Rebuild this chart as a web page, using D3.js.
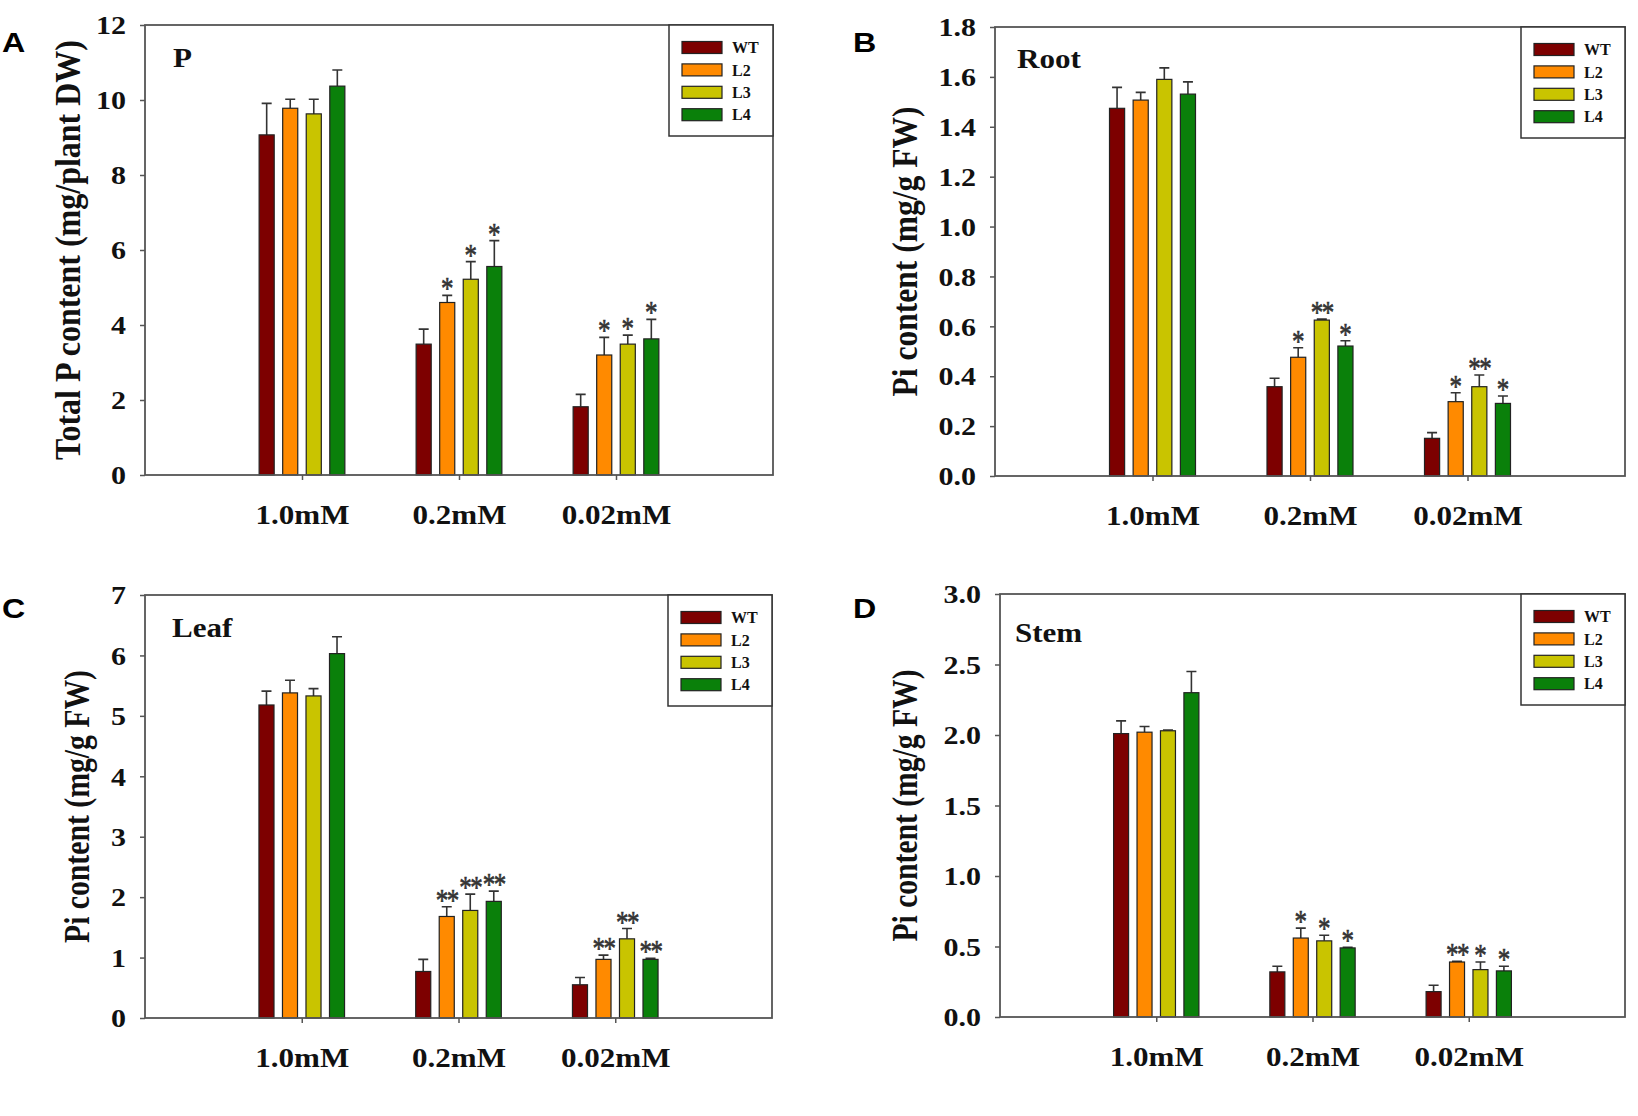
<!DOCTYPE html>
<html>
<head>
<meta charset="utf-8">
<script src="https://cdn.jsdelivr.net/npm/d3@7"></script>
<style>
  body { margin: 0; background: #fff; }
  text { font-family: "Liberation Serif", "Times New Roman", serif; }
</style>
</head>
<body>
<div id="chart"></div>
<script>
// Categories (P supply) and plant lines
const categories = ["1.0mM", "0.2mM", "0.02mM"];
const lines = ["WT", "L2", "L3", "L4"];
const lineColors = ["#7d0000", "#ff8a00", "#c9c400", "#0a800a"];

// A - total P, mg/plant DW (rows = category, cols = line)
const totalPMean = [[9.07, 9.78, 9.63, 10.37], [3.49, 4.60, 5.22, 5.56], [1.82, 3.20, 3.49, 3.63]];
const totalPErr = [[0.84, 0.24, 0.39, 0.43], [0.40, 0.19, 0.47, 0.69], [0.33, 0.47, 0.24, 0.52]];
const totalPStars = [["", "", "", ""], ["", "*", "*", "*"], ["", "*", "*", "*"]];
const totalPTicks = [0, 2, 4, 6, 8, 10, 12];

// B - root Pi, mg/g FW
const rootMean = [[1.474, 1.507, 1.590, 1.531], [0.358, 0.476, 0.625, 0.521], [0.151, 0.298, 0.358, 0.291]];
const rootErr = [[0.084, 0.031, 0.046, 0.049], [0.034, 0.038, 0.004, 0.021], [0.023, 0.036, 0.047, 0.030]];
const rootStars = [["", "", "", ""], ["", "*", "**", "*"], ["", "*", "**", "*"]];
const rootTicks = [0, 0.2, 0.4, 0.6, 0.8, 1.0, 1.2, 1.4, 1.6, 1.8];

// C - leaf Pi, mg/g FW
const leafMean = [[5.18, 5.38, 5.33, 6.03], [0.77, 1.68, 1.78, 1.93], [0.55, 0.97, 1.31, 0.97]];
const leafErr = [[0.23, 0.21, 0.12, 0.28], [0.20, 0.16, 0.27, 0.17], [0.12, 0.07, 0.17, 0.02]];
const leafStars = [["", "", "", ""], ["", "**", "**", "**"], ["", "**", "**", "**"]];
const leafTicks = [0, 1, 2, 3, 4, 5, 6, 7];

// D - stem Pi, mg/g FW
const stemMean = [[2.01, 2.02, 2.03, 2.30], [0.32, 0.56, 0.54, 0.49], [0.18, 0.39, 0.336, 0.327]];
const stemErr = [[0.09, 0.04, 0.005, 0.15], [0.04, 0.07, 0.04, 0.005], [0.045, 0.005, 0.054, 0.033]];
const stemStars = [["", "", "", ""], ["", "*", "*", "*"], ["", "**", "*", "*"]];
const stemTicks = [0, 0.5, 1.0, 1.5, 2.0, 2.5, 3.0];

// panel layout: plot box [left, right, top, bottom]
const panels = [
  { letter: "A", name: "P", mean: totalPMean, err: totalPErr, stars: totalPStars, ticks: totalPTicks, fmt: "d",
    yLabel: "Total P content (mg/plant DW)", box: [145, 773, 25, 475], titleX: 68, titleLen: 420,
    nameDx: 28, nameDy: 42, letterX: 2, letterY: 52 },
  { letter: "B", name: "Root", mean: rootMean, err: rootErr, stars: rootStars, ticks: rootTicks, fmt: ".1f",
    yLabel: "Pi content (mg/g FW)", box: [995, 1625, 27, 476], titleX: 905, titleLen: 290,
    nameDx: 22, nameDy: 41, letterX: 853, letterY: 52 },
  { letter: "C", name: "Leaf", mean: leafMean, err: leafErr, stars: leafStars, ticks: leafTicks, fmt: "d",
    yLabel: "Pi content (mg/g FW)", box: [145, 772, 595, 1018], titleX: 77, titleLen: 273,
    nameDx: 27, nameDy: 42, letterX: 2, letterY: 618 },
  { letter: "D", name: "Stem", mean: stemMean, err: stemErr, stars: stemStars, ticks: stemTicks, fmt: ".1f",
    yLabel: "Pi content (mg/g FW)", box: [1000, 1625, 594, 1017], titleX: 905, titleLen: 272,
    nameDx: 15, nameDy: 48, letterX: 853, letterY: 618 }
];

const svg = d3.select("#chart")
  .append("svg")
  .attr("width", 1638)
  .attr("height", 1116);

const frameColor = "#555";
const step = 0.15;   // bar pitch in x units
const bw = 0.096;    // bar width in x units

panels.forEach(p => {
  const [x0, x1, y0, y1] = p.box;
  const x = d3.scaleLinear().domain([0, 4]).range([x0, x1]);
  const y = d3.scaleLinear().domain([0, d3.max(p.ticks)]).range([y1, y0]);
  const g = svg.append("g");

  // flatten to one row per bar
  const rows = [];
  categories.forEach((c, ci) => lines.forEach((s, si) => {
    rows.push({ ci, si, v: p.mean[ci][si], e: p.err[ci][si], star: p.stars[ci][si] });
  }));
  const cx = d => x(d.ci + 1 + (d.si - 1.5) * step);
  const barW = x(bw) - x(0);

  // error bars (upper only)
  g.selectAll(".err")
    .data(rows)
    .join("path")
    .attr("class", "err")
    .attr("d", d => `M${cx(d)},${y(d.v)}V${y(d.v + d.e)}M${cx(d) - 5},${y(d.v + d.e)}H${cx(d) + 5}`)
    .attr("stroke", "#333")
    .attr("stroke-width", 1.6)
    .attr("fill", "none");

  // bars
  g.selectAll(".bar")
    .data(rows)
    .join("rect")
    .attr("class", "bar")
    .attr("x", d => cx(d) - barW / 2)
    .attr("width", barW)
    .attr("y", d => y(d.v))
    .attr("height", d => y(0) - y(d.v))
    .attr("fill", d => lineColors[d.si])
    .attr("stroke", "#222")
    .attr("stroke-width", 1.2);

  // significance stars (stretched a little in height, like the original)
  g.selectAll(".star")
    .data(rows.filter(d => d.star))
    .join("text")
    .attr("class", "star")
    .attr("transform", d => `translate(${cx(d)},${y(d.v + d.e) + 4}) scale(1,1.3)`)
    .attr("text-anchor", "middle")
    .attr("font-size", 25)
    .attr("letter-spacing", d => d.star.length > 1 ? -1.5 : 0)
    .attr("fill", "#333")
    .attr("stroke", "#333")
    .attr("stroke-width", 0.5)
    .text(d => d.star);

  // frame
  g.append("rect")
    .attr("x", x0).attr("y", y0)
    .attr("width", x1 - x0).attr("height", y1 - y0)
    .attr("fill", "none")
    .attr("stroke", frameColor)
    .attr("stroke-width", 1.8);

  // y axis
  const yAxis = g.append("g")
    .attr("transform", `translate(${x0},0)`)
    .call(d3.axisLeft(y).tickValues(p.ticks).tickSize(5).tickFormat(d3.format(p.fmt)));
  yAxis.select(".domain").remove();
  yAxis.selectAll("line").attr("stroke", frameColor).attr("stroke-width", 1.5);
  yAxis.selectAll("text")
    .attr("x", 0).attr("dy", "0.35em")
    .attr("transform", "translate(-19,0) scale(1.2,1)")
    .attr("text-anchor", "end")
    .attr("font-size", 25)
    .attr("font-weight", "bold")
    .attr("font-family", "Liberation Serif")
    .attr("fill", "#111");

  // x axis
  const xAxis = g.append("g")
    .attr("transform", `translate(0,${y1})`)
    .call(d3.axisBottom(x).tickValues([1, 2, 3]).tickSize(5).tickFormat(d => categories[d - 1]));
  xAxis.select(".domain").remove();
  xAxis.selectAll("line").attr("stroke", frameColor).attr("stroke-width", 1.5);
  xAxis.selectAll("text")
    .attr("y", 0).attr("dy", "0.35em")
    .attr("transform", "translate(0,40) scale(1.15,1)")
    .attr("font-size", 27)
    .attr("font-weight", "bold")
    .attr("font-family", "Liberation Serif")
    .attr("fill", "#111");

  // y title
  g.append("text")
    .attr("transform", `translate(${p.titleX},${(y0 + y1) / 2}) rotate(-90) scale(1,1.25)`)
    .attr("text-anchor", "middle")
    .attr("dominant-baseline", "central")
    .attr("font-size", 28)
    .attr("font-weight", "bold")
    .attr("textLength", p.titleLen)
    .attr("lengthAdjust", "spacingAndGlyphs")
    .attr("fill", "#111")
    .text(p.yLabel);

  // panel name inside plot
  g.append("text")
    .attr("transform", `translate(${x0 + p.nameDx},${y0 + p.nameDy}) scale(1.15,1)`)
    .attr("font-size", 27)
    .attr("font-weight", "bold")
    .attr("fill", "#111")
    .text(p.name);

  // panel letter
  svg.append("text")
    .attr("transform", `translate(${p.letterX},${p.letterY}) scale(1.15,1)`)
    .style("font-family", "Liberation Sans, Arial, sans-serif")
    .attr("font-size", 28)
    .attr("font-weight", "bold")
    .attr("fill", "#000")
    .text(p.letter);

  // legend
  const lg = g.append("g").attr("transform", `translate(${x1 - 104},${y0})`);
  lg.append("rect")
    .attr("width", 104).attr("height", 111)
    .attr("fill", "#fff")
    .attr("stroke", "#333")
    .attr("stroke-width", 1.5);
  const item = lg.selectAll(".item")
    .data(lines)
    .join("g")
    .attr("class", "item")
    .attr("transform", (d, i) => `translate(13,${22.5 + i * 22.4})`);
  item.append("rect")
    .attr("x", 0).attr("y", -6)
    .attr("width", 40).attr("height", 12)
    .attr("fill", (d, i) => lineColors[i])
    .attr("stroke", "#222")
    .attr("stroke-width", 1.2);
  item.append("text")
    .attr("x", 50).attr("dy", "0.35em")
    .attr("font-size", 16)
    .attr("font-weight", "bold")
    .attr("fill", "#111")
    .text(d => d);
});
</script>
</body>
</html>
